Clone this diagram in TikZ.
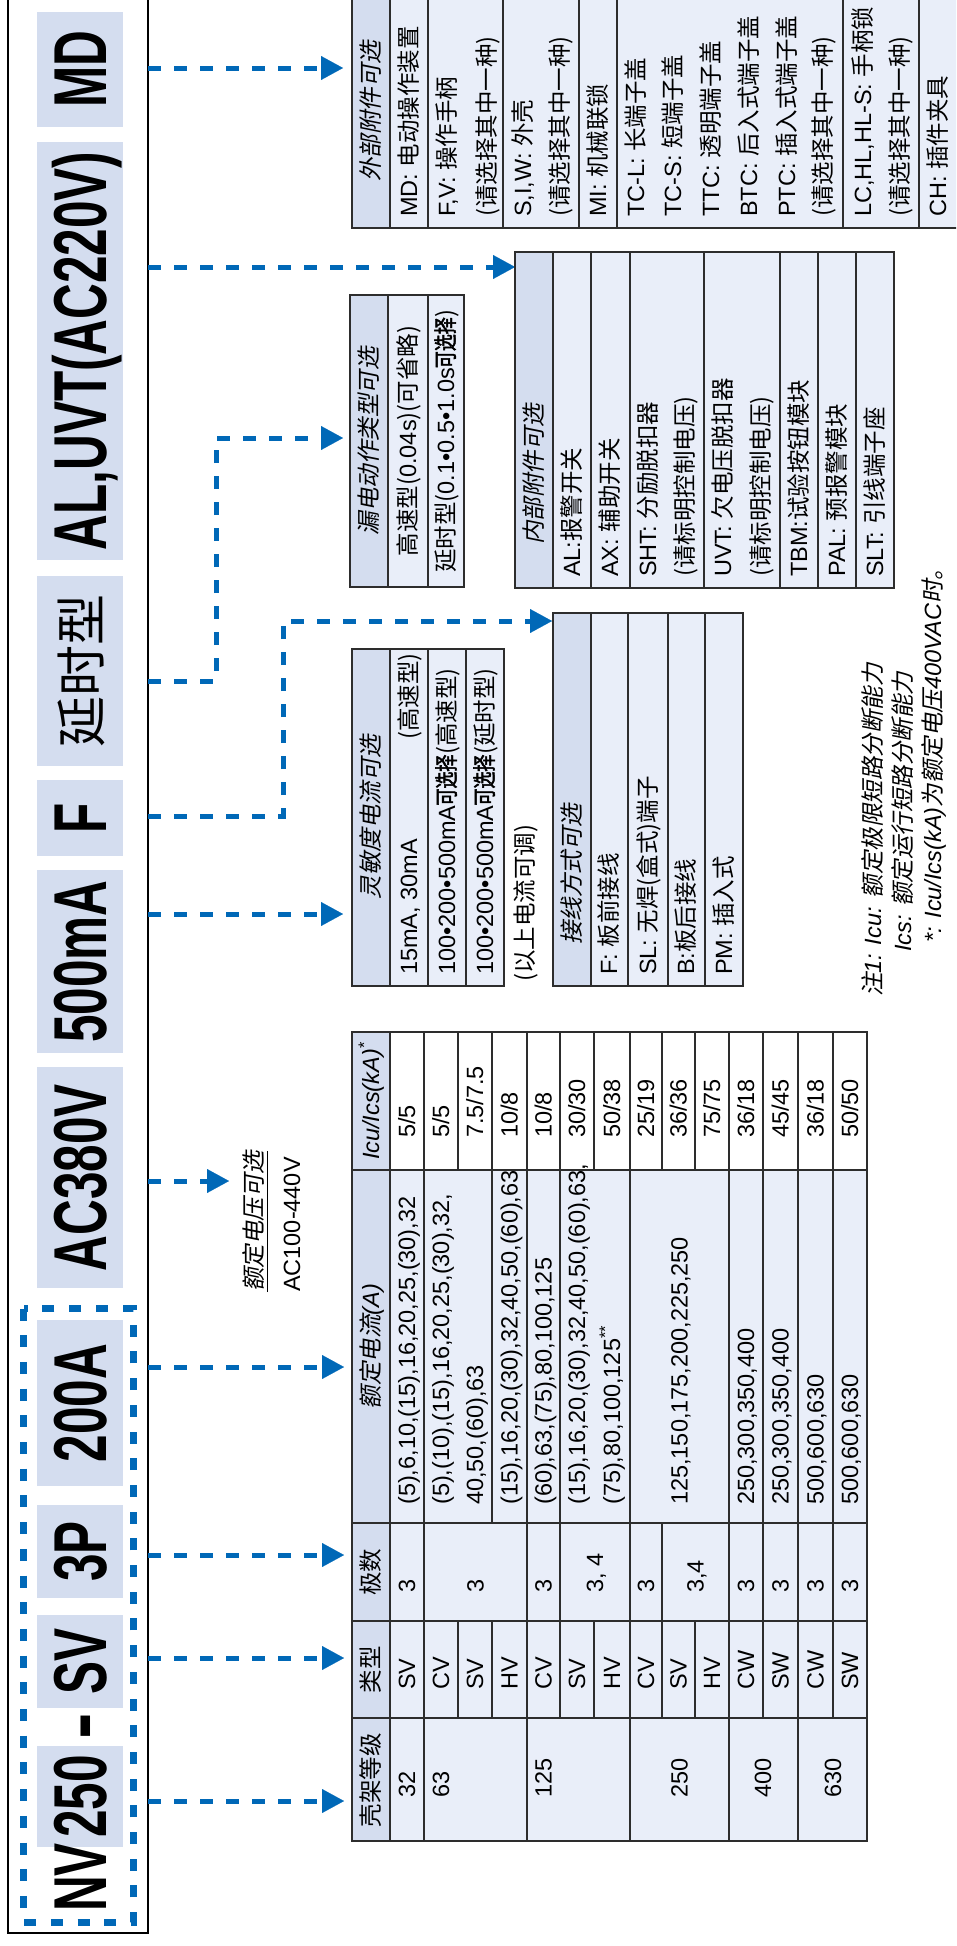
\documentclass[tikz,border=0pt]{standalone}
\usepackage{fontspec}
\setmainfont{Liberation Sans}
\newfontfamily\hdfont[FakeStretch=0.66]{Liberation Sans}
\newfontfamily\hzf{Noto Sans CJK SC}
\newfontfamily\hzfs[FakeSlant=0.2]{Noto Sans CJK SC}
\newfontfamily\hzfb[FakeBold=2,FakeStretch=0.72]{Noto Sans CJK SC}
\newcommand\hz[1]{{\hzf\upshape #1}}
\newcommand\hzs[1]{{\hzfs\upshape #1}}
\newcommand\hzb[1]{{\hzfb\upshape #1}}
\newcommand\tabsize{\fontsize{23.5}{28}\selectfont}
\newcommand\bigsize{\fontsize{75}{75}\selectfont}
\usetikzlibrary{arrows.meta}
\definecolor{cblue}{RGB}{0,104,183}
\definecolor{tokfill}{RGB}{212,221,239}
\definecolor{hdrfill}{RGB}{212,221,239}
\definecolor{bodyfill}{RGB}{233,238,249}
\definecolor{gridc}{RGB}{45,45,45}
\tikzset{
  tcell/.style={rotate=90,anchor=base west,inner sep=0pt,font=\tabsize},
  tccell/.style={rotate=90,anchor=base,inner sep=0pt,font=\tabsize},
  tecell/.style={rotate=90,anchor=base east,inner sep=0pt,font=\tabsize},
  tok/.style={rotate=90,fill=tokfill,inner sep=0pt,minimum height=86pt,minimum width=#1,
    text height=52pt,text depth=0pt,font=\hdfont\bfseries\bigsize},
  ptok/.style={rotate=90,inner sep=0pt,text height=52pt,text depth=0pt,font=\hdfont\bfseries\bigsize},
  conn/.style={draw=cblue,line width=5pt,dash pattern=on 13pt off 13pt,
    -{Triangle[length=22pt,width=24pt,line width=0.1pt,fill=cblue]}},
  tline/.style={draw=gridc,line width=1.2pt},
  tborder/.style={draw=gridc,line width=2.8pt},
}
\begin{document}
\begin{tikzpicture}[x=1pt,y=-1pt]
\useasboundingbox (0,0) rectangle (956,1946);
\clip (0,0) rectangle (956,1946);

% model code frame
\draw[line width=2.5pt] (8,-20) rectangle (148,1933);
\node[tok=115pt] (hMD) at (80,69.5) {MD};
\node[tok=418pt] (hAL) at (80,351) {AL,UVT(AC220V)};
\node[tok=190pt,text height=40pt,font=\hzf\fontsize{51}{51}\selectfont] (hYS) at (80,671) {延时型};
\node[tok=76pt] (hF) at (80,818) {F};
\node[tok=183pt] (hMA) at (80,961.5) {500mA};
\node[tok=221pt] (hV) at (80,1177.5) {AC380V};
\node[tok=166pt] (hA) at (80,1403) {200A};
\node[tok=93pt] (hP) at (80,1551.5) {3P};
\node[tok=93pt] (hT) at (80,1661.5) {SV};
\node[ptok,font=\bfseries\fontsize{80}{80}\selectfont] (hD) at (80,1726.5) {-};
\node[tok=101pt] (hK) at (80,1796.5) {250};
\node[ptok] (hNV) at (80,1877.5) {NV};
\draw[cblue,line width=7pt,dash pattern=on 12pt off 14.7pt] (23.5,1308.5) rectangle (133,1922);

% connectors
\coordinate (sMD) at (148,68);   \coordinate (tMD) at (343,68);
\coordinate (sAL) at (148,267);  \coordinate (tAL) at (515,267);
\coordinate (sYS) at (148,681);  \coordinate (tYS) at (343,438);
\coordinate (sF) at (148,816);   \coordinate (tF) at (552,621);
\coordinate (sMA) at (148,914);  \coordinate (tMA) at (343,914);
\coordinate (sV) at (148,1181);  \coordinate (tV) at (229,1181);
\coordinate (sA) at (148,1367);  \coordinate (tA) at (344,1367);
\coordinate (sP) at (148,1555);  \coordinate (tP) at (344,1555);
\coordinate (sT) at (148,1658);  \coordinate (tT) at (344,1658);
\coordinate (sK) at (148,1801);  \coordinate (tK) at (344,1801);
\draw[conn] (sMD) -- (tMD);
\draw[conn] (sAL) -- (tAL);
\draw[conn] (sYS) -- ++(68,0) |- (tYS);
\draw[conn] (sF) -- ++(135,0) |- (tF);
\draw[conn] (sMA) -- (tMA);
\draw[conn] (sV) -- (tV);
\draw[conn] (sA) -- (tA);
\draw[conn] (sP) -- (tP);
\draw[conn] (sT) -- (tT);
\draw[conn] (sK) -- (tK);

% external accessories
\fill[bodyfill] (352,-10) rectangle (1000,228);
\fill[hdrfill] (352,-10) rectangle (390,228);
\foreach \x in {390,428,503,579,617,843,919} \draw[tline] (\x,-10) -- (\x,228);
\draw[tborder] (352,-10) rectangle (1000,228);
\node[tcell] (exH) at (379,182) {\hzs{外部附件可选}};
\foreach \b/\t [count=\i] in {417/{MD: \hz{电动操作装置}},455/{F,V: \hz{操作手柄}},495/{\hz{(请选择其中一种)}},
  531/{S,I,W: \hz{外壳}},568/{\hz{(请选择其中一种)}},606/{MI: \hz{机械联锁}},644/{TC-L: \hz{长端子盖}},
  681/{TC-S: \hz{短端子盖}},719/{TTC: \hz{透明端子盖}},757/{BTC: \hz{后入式端子盖}},
  795/{PTC: \hz{插入式端子盖}},831/{\hz{(请选择其中一种)}},871/{LC,HL,HL-S: \hz{手柄锁}},
  908/{\hz{(请选择其中一种)}},946/{CH: \hz{插件夹具}}}
  \node[tcell] (ex\i) at (\b,217) {\t};

% leakage action type
\fill[bodyfill] (350,295) rectangle (464,587);
\fill[hdrfill] (350,295) rectangle (388,587);
\foreach \x in {388,428} \draw[tline] (\x,295) -- (\x,587);
\draw[tborder] (350,295) rectangle (464,587);
\node[tccell] (lkH) at (377,441) {\hzs{漏电动作类型可选}};
\node[tccell] (lk1) at (416,441) {\hz{高速型(}0.04s\hz{)(可省略)}};
\node[tccell] (lk2) at (454,441) {\hz{延时型(}0.1•0.5•1.0s\hzb{可选择}\hz{)}};

% sensitivity current
\fill[bodyfill] (352,649) rectangle (504,986);
\fill[hdrfill] (352,649) rectangle (390,986);
\foreach \x in {390,428,466} \draw[tline] (\x,649) -- (\x,986);
\draw[tborder] (352,649) rectangle (504,986);
\node[tccell] (snH) at (379,817) {\hzs{灵敏度电流可选}};
\node[tcell] (sn1) at (417,975) {15mA, 30mA};
\node[tecell] (sn1b) at (417,653) {\hz{(高速型)}};
\node[tcell] (sn2) at (455,975) {100•200•500mA\hzb{可选择}\hz{(高速型)}};
\node[tcell] (sn3) at (493,975) {100•200•500mA\hzb{可选择}\hz{(延时型)}};
\node[tcell] (snN) at (533,982) {\hz{(以上电流可调)}};

% internal accessories
\fill[bodyfill] (515,252) rectangle (894,588);
\fill[hdrfill] (515,252) rectangle (553,588);
\foreach \x in {553,591,630,704,780,818,856} \draw[tline] (\x,252) -- (\x,588);
\draw[tborder] (515,252) rectangle (894,588);
\node[tcell] (inH) at (542,545) {\hzs{内部附件可选}};
\foreach \b/\t [count=\i] in {580/{AL:\hz{报警开关}},618/{AX: \hz{辅助开关}},656/{SHT: \hz{分励脱扣器}},
  693/{\hz{(请标明控制电压)}},731/{UVT: \hz{欠电压脱扣器}},769/{\hz{(请标明控制电压)}},
  807/{TBM:\hz{试验按钮模块}},845/{PAL: \hz{预报警模块}},883/{SLT: \hz{引线端子座}}}
  \node[tcell] (in\i) at (\b,577) {\t};

% connection type
\fill[bodyfill] (553,613) rectangle (743,986);
\fill[hdrfill] (553,613) rectangle (591,986);
\foreach \x in {591,628,668,705} \draw[tline] (\x,613) -- (\x,986);
\draw[tborder] (553,613) rectangle (743,986);
\node[tcell] (cnH) at (580,945) {\hzs{接线方式可选}};
\foreach \b/\t [count=\i] in {617/{F: \hz{板前接线}},656/{SL: \hz{无焊(盒式)端子}},694/{B:\hz{板后接线}},732/{PM: \hz{插入式}}}
  \node[tcell] (cn\i) at (\b,975) {\t};

% rated voltage
\node[tcell] (rvH) at (262,1292) {\hzs{额定电压可选}};
\draw[line width=1.2pt] ([xshift=3pt]rvH.south west) -- ([xshift=3pt]rvH.south east);
\node[tcell] (rv1) at (300,1292) {AC100-440V};

% ratings table
\fill[bodyfill] (352,1032) rectangle (867,1841);
\fill[white] (390,1032) rectangle (867,1170);
\fill[hdrfill] (352,1032) rectangle (390,1841);
\foreach \y in {1718,1621,1523,1170} \draw[tline] (352,\y) -- (867,\y);
\foreach \x in {390,424,527,630,729,798} \draw[tline] (\x,1032) -- (\x,1841);
\foreach \x/\a/\b in {458/1718/1621,458/1170/1032,492/1718/1621,492/1523/1032,560/1718/1032,
  594/1718/1621,594/1170/1032,662/1718/1523,662/1170/1032,695/1718/1621,695/1170/1032,
  763/1718/1032,833/1718/1032}
  \draw[tline] (\x,\a) -- (\x,\b);
\draw[tborder] (352,1032) rectangle (867,1841);
\node[tccell] (rtH1) at (379,1780) {\hz{壳架等级}};
\node[tccell] (rtH2) at (379,1669.5) {\hz{类型}};
\node[tccell] (rtH3) at (379,1572) {\hz{极数}};
\node[tccell] (rtH4) at (379,1346.5) {\hzs{额定电流}\textit{(A)}};
\node[tccell] (rtH5) at (379,1101) {\textit{Icu/Ics(kA)}\textsuperscript{*}};
\foreach \b/\t [count=\i] in {415/32,449/63,551.5/125,687.5/250,771/400,841/630}
  \node[tcell] (fr\i) at (\b,1798) {\t};
\foreach \b/\t/\c [count=\i] in {415/SV/{5/5},449/CV/{5/5},483/SV/{7.5/7.5},517.5/HV/{10/8},551.5/CV/{10/8},
  585/SV/{30/30},620/HV/{50/38},654/CV/{25/19},686.5/SV/{36/36},720/HV/{75/75},
  754/CW/{36/18},788.5/SW/{45/45},823.5/CW/{36/18},858/SW/{50/50}}
  {\node[tcell] (ty\i) at (\b,1690) {\t};
   \node[tcell] (ic\i) at (\b,1138) {\c};}
\foreach \b/\t [count=\i] in {415/3,483.5/3,551.5/3,603/{3, 4},654/3,703.5/{3,4},754/3,788.5/3,823.5/3,858/3}
  \node[tcell] (po\i) at (\b,1593) {\t};
\foreach \b/\t [count=\i] in {415/{(5),6,10,(15),16,20,25,(30),32},449/{(5),(10),(15),16,20,25,(30),32,},
  483/{40,50,(60),63},517.5/{(15),16,20,(30),32,40,50,(60),63},551.5/{(60),63,(75),80,100,125},
  585/{(15),16,20,(30),32,40,50,(60),63,},620/{(75),80,100,125\textsuperscript{**}},
  687.5/{125,150,175,200,225,250},754/{250,300,350,400},788.5/{250,300,350,400},
  823.5/{500,600,630},858/{500,600,630}}
  \node[tcell] (ra\i) at (\b,1505) {\t};

% notes
\node[tcell,font=\tabsize\itshape] (nt1) at (881,997) {\hzs{注}1: Icu: \hzs{额定极限短路分断能力}};
\node[tcell,font=\tabsize\itshape] (nt2) at (911,952) {Ics: \hzs{额定运行短路分断能力}};
\node[tcell,font=\tabsize\itshape] (nt3) at (941,943) {*: Icu/Ics(kA)\hzs{为额定电压}400VAC\hzs{时。}};
\end{tikzpicture}
\end{document}
